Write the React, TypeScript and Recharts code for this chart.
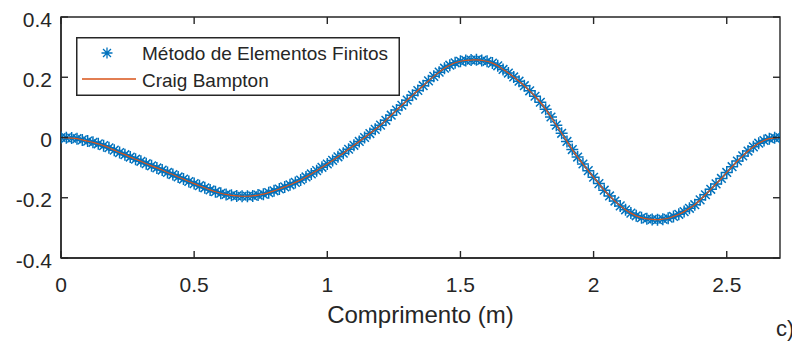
import React from 'react';
import { ComposedChart, Line, Scatter, XAxis, YAxis, Legend, ReferenceArea } from 'recharts';

// Curve (x = 0, 0.02, ..., 2.70 m)
const xStep = 0.02;
const femDisplacement = [
  0, -0.001, -0.002, -0.004, -0.008, -0.012, -0.016, -0.021, -0.027, -0.034,
  -0.042, -0.05, -0.057, -0.065, -0.072, -0.079, -0.087, -0.094, -0.101, -0.108,
  -0.116, -0.123, -0.131, -0.138, -0.146, -0.153, -0.16, -0.167, -0.174, -0.18,
  -0.185, -0.189, -0.192, -0.194, -0.195, -0.195, -0.194, -0.191, -0.188, -0.183,
  -0.177, -0.171, -0.164, -0.157, -0.149, -0.141, -0.131, -0.121, -0.11, -0.099,
  -0.088, -0.076, -0.064, -0.052, -0.039, -0.026, -0.013, 0.0, 0.013, 0.027,
  0.041, 0.057, 0.074, 0.091, 0.107, 0.124, 0.14, 0.156, 0.172, 0.188,
  0.203, 0.217, 0.23, 0.24, 0.248, 0.253, 0.256, 0.257, 0.258, 0.256,
  0.253, 0.247, 0.238, 0.226, 0.214, 0.201, 0.187, 0.172, 0.155, 0.137,
  0.117, 0.094, 0.068, 0.041, 0.014, -0.013, -0.04, -0.065, -0.088, -0.11,
  -0.132, -0.153, -0.175, -0.194, -0.211, -0.227, -0.24, -0.251, -0.26, -0.266,
  -0.27, -0.272, -0.273, -0.271, -0.268, -0.262, -0.255, -0.246, -0.235, -0.223,
  -0.207, -0.19, -0.172, -0.154, -0.136, -0.116, -0.097, -0.078, -0.061, -0.045,
  -0.031, -0.019, -0.01, -0.004, -0.001, 0.0,
];
// The Craig-Bampton curve coincides with the FE solution in the reference
const craigBampton = femDisplacement;

const xDomain: [number, number] = [0, 2.7];
const yDomain: [number, number] = [-0.4, 0.4];
const xTicks = [0, 0.5, 1, 1.5, 2, 2.5];
const yTicks = [-0.4, -0.2, 0, 0.2, 0.4];
const seriesNames = ['Método de Elementos Finitos', 'Craig Bampton'];
const xLabel = 'Comprimento (m)';
const panelLabel = 'c)';

const data = femDisplacement.map((v, i) => ({
  x: Number((i * xStep).toFixed(2)),
  fem: v,
  cb: craigBampton[i],
}));

const BLUE = '#0072BD';
const ORANGE = '#D95319';
const AXIS = '#262626';
const FONT = '"Liberation Sans", Arial, Helvetica, sans-serif';

// plot frame (page pixels)
const W = 800;
const H = 345;
const PLOT_LEFT = 61;
const PLOT_TOP = 17;
const PLOT_RIGHT = 780;
const PLOT_BOTTOM = 258;
const TICK = 7;
const TICK_FS = 21;
const FRAME_W = 1.4;

const asteriskPath = (cx: number, cy: number, r: number) => {
  const d = r * 0.72;
  return `M${cx - r},${cy}H${cx + r}M${cx},${cy - r}V${cy + r}M${cx - d},${cy - d}L${cx + d},${cy + d}M${cx - d},${cy + d}L${cx + d},${cy - d}`;
};

const AsteriskShape = (props: any) => {
  const { cx, cy } = props;
  if (cx == null || cy == null) return <g />;
  return <path d={asteriskPath(cx, cy, 6)} stroke={BLUE} strokeWidth={1.5} fill="none" />;
};

const XTick = (props: any) => {
  const { x, payload } = props;
  return (
    <g>
      <line x1={x} x2={x} y1={PLOT_BOTTOM} y2={PLOT_BOTTOM - TICK} stroke={AXIS} strokeWidth={FRAME_W} />
      <line x1={x} x2={x} y1={PLOT_TOP} y2={PLOT_TOP + TICK} stroke={AXIS} strokeWidth={FRAME_W} />
      <text x={x} y={PLOT_BOTTOM + 34} textAnchor="middle" fontSize={TICK_FS} fontFamily={FONT} fill={AXIS}>
        {String(payload.value)}
      </text>
    </g>
  );
};

const YTick = (props: any) => {
  const { y, payload } = props;
  return (
    <g>
      <line x1={PLOT_LEFT} x2={PLOT_LEFT + TICK} y1={y} y2={y} stroke={AXIS} strokeWidth={FRAME_W} />
      <line x1={PLOT_RIGHT - TICK} x2={PLOT_RIGHT} y1={y} y2={y} stroke={AXIS} strokeWidth={FRAME_W} />
      <text x={52} y={y + 9.5} textAnchor="end" fontSize={TICK_FS} fontFamily={FONT} fill={AXIS}>
        {String(payload.value)}
      </text>
    </g>
  );
};

const LegendBox = () => (
  <svg width={324} height={59} style={{ display: 'block' }}>
    <rect x={0.75} y={0.75} width={322.5} height={57.5} fill="#fff" stroke={AXIS} strokeWidth={1.5} />
    <path d={asteriskPath(31, 16, 5.5)} stroke={BLUE} strokeWidth={1.3} fill="none" />
    <text x={66} y={23} fontSize={19} fontFamily={FONT} fill={AXIS}>{seriesNames[0]}</text>
    <line x1={6} x2={60} y1={42} y2={42} stroke={ORANGE} strokeWidth={1.3} />
    <text x={66} y={50} fontSize={19} fontFamily={FONT} fill={AXIS}>{seriesNames[1]}</text>
  </svg>
);

export default function App() {
  const axisLineStyle = { stroke: AXIS, strokeWidth: FRAME_W } as any;
  return (
    <div style={{ position: 'relative', width: W, height: H, margin: '-8px 0 0 -8px', fontFamily: FONT }}>
      <ComposedChart
        width={W}
        height={H}
        data={data}
        margin={{ top: PLOT_TOP, right: W - PLOT_RIGHT, bottom: 0, left: 0 }}
      >
        <XAxis
          dataKey="x"
          type="number"
          domain={xDomain}
          ticks={xTicks}
          interval={0}
          allowDataOverflow
          height={H - PLOT_BOTTOM}
          tickSize={0}
          tickLine={false}
          stroke={AXIS}
          axisLine={axisLineStyle}
          tick={<XTick />}
          label={{ value: xLabel, position: 'insideBottom', offset: 22, fontSize: 24, fill: AXIS, fontFamily: FONT }}
        />
        <YAxis
          type="number"
          domain={yDomain}
          ticks={yTicks}
          interval={0}
          allowDataOverflow
          width={PLOT_LEFT}
          tickSize={0}
          tickLine={false}
          stroke={AXIS}
          axisLine={axisLineStyle}
          tick={<YTick />}
        />
        <ReferenceArea
          x1={xDomain[0]}
          x2={xDomain[1]}
          y1={yDomain[0]}
          y2={yDomain[1]}
          fill="none"
          fillOpacity={0}
          stroke={AXIS}
          strokeOpacity={1}
          strokeWidth={FRAME_W}
          ifOverflow="visible"
        />
        <Legend
          layout="vertical"
          align="center"
          verticalAlign="middle"
          content={() => <LegendBox />}
          wrapperStyle={{ position: 'absolute', left: 76, top: 37, width: 324, height: 59 }}
        />
        <Scatter
          dataKey="fem"
          name={seriesNames[0]}
          fill={BLUE}
          shape={AsteriskShape}
          isAnimationActive={false}
        />
        <Line
          dataKey="cb"
          name={seriesNames[1]}
          type="monotone"
          stroke={ORANGE}
          strokeWidth={1.2}
          dot={false}
          activeDot={false}
          isAnimationActive={false}
          {...({ zIndex: 700 } as any)}
        />
      </ComposedChart>
      <div
        style={{
          position: 'absolute',
          left: 776,
          top: 318,
          width: 24,
          whiteSpace: 'nowrap',
          fontSize: 22,
          lineHeight: '22px',
          color: AXIS,
          fontFamily: FONT,
        }}
      >
        {panelLabel}
      </div>
    </div>
  );
}
